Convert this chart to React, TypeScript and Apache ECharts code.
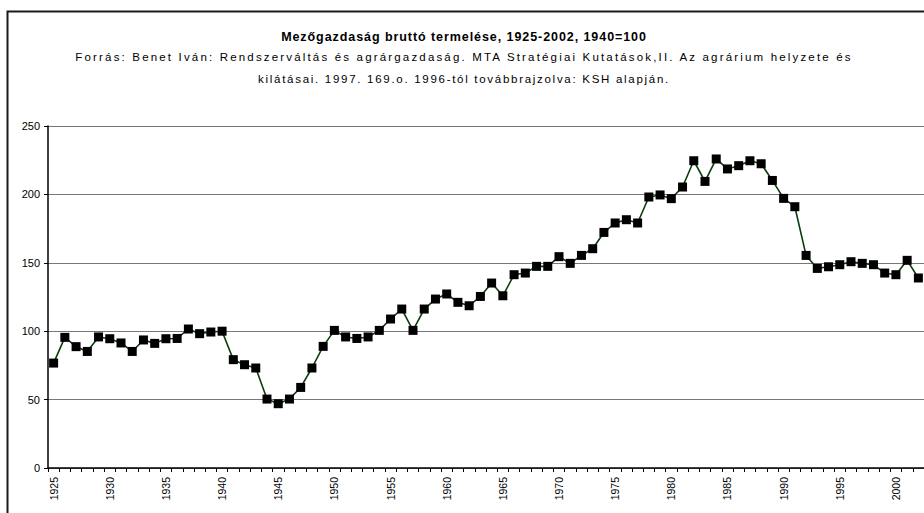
import React, { useEffect, useRef } from "react";
import * as echarts from "echarts";

const years: string[] = [
  "1925", "1926", "1927", "1928", "1929", "1930", "1931", "1932", "1933", "1934",
  "1935", "1936", "1937", "1938", "1939", "1940", "1941", "1942", "1943", "1944",
  "1945", "1946", "1947", "1948", "1949", "1950", "1951", "1952", "1953", "1954",
  "1955", "1956", "1957", "1958", "1959", "1960", "1961", "1962", "1963", "1964",
  "1965", "1966", "1967", "1968", "1969", "1970", "1971", "1972", "1973", "1974",
  "1975", "1976", "1977", "1978", "1979", "1980", "1981", "1982", "1983", "1984",
  "1985", "1986", "1987", "1988", "1989", "1990", "1991", "1992", "1993", "1994",
  "1995", "1996", "1997", "1998", "1999", "2000", "2001", "2002",
];

const production: number[] = [
  76.7, 95.5, 88.7, 85.2, 95.8, 94.5, 91.4, 85.2, 93.6, 91.1,
  94.5, 94.7, 101.6, 98.2, 99.4, 100, 79.2, 75.5, 73.1, 50.4,
  47, 50.4, 58.9, 73.1, 88.9, 100.6, 95.8, 94.7, 95.8, 100.6,
  108.9, 116.2, 100.6, 116.2, 123.5, 127.2, 121.1, 118.6, 125.4, 135.2,
  125.9, 141.3, 142.5, 147.4, 147.4, 154.5, 149.6, 155.4, 160.3, 172.2,
  179.1, 181.5, 179.1, 198.1, 199.6, 196.9, 205.4, 224.6, 209.5, 225.9,
  218.6, 221, 224.6, 222.4, 210.2, 197.1, 191, 155.4, 145.9, 147.1,
  148.6, 150.8, 149.6, 148.6, 142.5, 141.3, 151.8, 138.9,
];

const titleText = "Mezőgazdaság bruttó termelése, 1925-2002, 1940=100";
const subtitleLine1 =
  "Forrás: Benet Iván: Rendszerváltás és agrárgazdaság. MTA Stratégiai Kutatások,II. Az agrárium helyzete és";
const subtitleLine2 = "kilátásai. 1997. 169.o. 1996-tól továbbrajzolva: KSH alapján.";

const FONT = "'Liberation Sans', Arial, sans-serif";

export default function App() {
  const ref = useRef<HTMLDivElement>(null);

  useEffect(() => {
    if (!ref.current) return;
    const chart = echarts.init(ref.current, undefined, { renderer: "svg" });
    chart.setOption({
      animation: false,
      backgroundColor: "#ffffff",
      textStyle: { fontFamily: FONT },
      grid: { left: 48, right: -4, top: 126, bottom: 45, containLabel: false },
      graphic: [
        {
          type: "rect",
          silent: true,
          z: -10,
          shape: { x: 7.5, y: 11.5, width: 960, height: 540 },
          style: { fill: "none", stroke: "#1a1a1a", lineWidth: 2 },
        },
        {
          type: "text",
          silent: true,
          x: 464,
          y: 37,
          style: {
            text: titleText,
            fill: "#000",
            font: `bold 12.5px ${FONT}`,
            textAlign: "center",
            textVerticalAlign: "middle",
          },
        },
        {
          type: "text",
          silent: true,
          x: 464,
          y: 57,
          style: {
            text: subtitleLine1,
            fill: "#000",
            font: `11.5px ${FONT}`,
            textAlign: "center",
            textVerticalAlign: "middle",
          },
        },
        {
          type: "text",
          silent: true,
          x: 464,
          y: 79,
          style: {
            text: subtitleLine2,
            fill: "#000",
            font: `11.5px ${FONT}`,
            textAlign: "center",
            textVerticalAlign: "middle",
          },
        },
      ],
      xAxis: {
        type: "category",
        data: years,
        boundaryGap: true,
        axisLine: { show: true, lineStyle: { color: "#000", width: 1.5 } },
        axisTick: { show: true, interval: 0, length: 4, lineStyle: { color: "#000", width: 1 } },
        axisLabel: {
          interval: 4,
          rotate: 90,
          margin: 9,
          fontSize: 10.5,
          color: "#000",
          fontFamily: FONT,
        },
        splitLine: { show: false },
      },
      yAxis: {
        type: "value",
        min: 0,
        max: 250,
        interval: 50,
        axisLine: { show: true, lineStyle: { color: "#000", width: 1.5 } },
        axisTick: { show: true, length: 4, lineStyle: { color: "#000", width: 1 } },
        axisLabel: { margin: 8, fontSize: 11, color: "#000", fontFamily: FONT },
        splitLine: { show: true, lineStyle: { color: "#777", width: 1.2 } },
      },
      series: [
        {
          type: "line",
          data: production,
          symbol: "rect",
          symbolSize: 9,
          showSymbol: true,
          showAllSymbol: true,
          itemStyle: { color: "#000000", borderWidth: 0 },
          lineStyle: { color: "#0a3d0a", width: 1.6 },
          silent: true,
        },
      ],
    });

    // Widen the subtitle lines to match the reference's letter spacing
    const svg = ref.current.querySelector("svg");
    if (svg) {
      const targets: [string, number][] = [
        [subtitleLine1, 777],
        [subtitleLine2, 412],
        [titleText, 366],
      ];
      const texts = Array.from(svg.querySelectorAll("text"));
      texts.forEach((t) => {
        const content = t.textContent || "";
        const match = targets.find(([s]) => s === content);
        if (!match) return;
        try {
          const natural = (t as SVGTextElement).getComputedTextLength();
          const spacing = (match[1] - natural) / Math.max(1, content.length);
          if (spacing > 0) t.setAttribute("letter-spacing", spacing.toFixed(2) + "px");
        } catch (e) {
          /* ignore */
        }
      });
    }

    return () => chart.dispose();
  }, []);

  return (
    <div
      ref={ref}
      style={{ position: "absolute", left: 0, top: 0, width: 924, height: 513, overflow: "hidden" }}
    />
  );
}
